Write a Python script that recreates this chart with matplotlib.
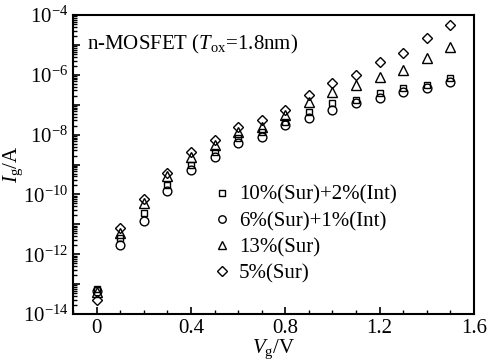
import matplotlib
matplotlib.use('Agg')
import matplotlib.pyplot as plt
from matplotlib.ticker import MultipleLocator, LogLocator, FuncFormatter, NullFormatter
import numpy as np

plt.rcParams['font.family'] = ['Liberation Serif', 'DejaVu Serif']
plt.rcParams['mathtext.fontset'] = 'custom'
plt.rcParams['mathtext.rm'] = 'Liberation Serif'
plt.rcParams['mathtext.it'] = 'Liberation Serif:italic'

# gate voltage (V)
vg = [0.0, 0.1, 0.2, 0.3, 0.4, 0.5, 0.6, 0.7, 0.8, 0.9, 1.0, 1.1, 1.2, 1.3, 1.4, 1.5]

# log10 of gate current (A)
sur10_int2 = [-13.16, -11.46, -10.62, -9.69, -9.02, -8.58, -8.11, -7.91, -7.58, -7.24,
              -6.94, -6.84, -6.61, -6.44, -6.34, -6.11]
sur6_int1 = [-13.22, -11.69, -10.89, -9.89, -9.18, -8.75, -8.28, -8.08, -7.68, -7.44,
             -7.18, -6.94, -6.78, -6.58, -6.44, -6.24]
sur13 = [-13.26, -11.29, -10.29, -9.38, -8.75, -8.35, -7.91, -7.75, -7.34, -6.91,
         -6.58, -6.34, -6.07, -5.84, -5.44, -5.07]
sur5 = [-13.53, -11.12, -10.15, -9.28, -8.58, -8.18, -7.75, -7.51, -7.18, -6.68,
        -6.27, -6.01, -5.57, -5.27, -4.77, -4.33]

labels = ['10%(Sur)+2%(Int)', '6%(Sur)+1%(Int)', '13%(Sur)', '5%(Sur)']

fig = plt.figure(figsize=(4.91, 3.61), dpi=100)
ax = fig.add_axes([0.1487, 0.1302, 0.8167, 0.8282])

series = [sur10_int2, sur6_int1, sur13, sur5]
markers = ['s', 'o', '^', 'D']
sizes = [5, 6.3, 7, 5.6]
for s, m, ms, lab in zip(series, markers, sizes, labels):
    ax.semilogy(vg, 10.0 ** np.array(s), linestyle='none', marker=m, ms=ms,
                mfc='none', mec='black', mew=1.0, label=lab)

ax.set_xlim(-0.1, 1.6)
ax.set_ylim(1e-14, 1e-4)

ax.xaxis.set_major_locator(MultipleLocator(0.4))
ax.xaxis.set_minor_locator(MultipleLocator(0.1))
ax.xaxis.set_major_formatter(FuncFormatter(lambda v, p: '0' if abs(v) < 1e-9 else '%.1f' % v))

ax.yaxis.set_major_locator(LogLocator(base=10, numticks=20))
ax.yaxis.set_minor_locator(LogLocator(base=10, subs=np.arange(2, 10), numticks=20))
ax.yaxis.set_minor_formatter(NullFormatter())


def yfmt(v, p):
    e = int(round(np.log10(v)))
    if e % 2 == 0:
        return r'$\mathregular{10^{%d}}$' % e
    return ''


ax.yaxis.set_major_formatter(FuncFormatter(yfmt))

ax.tick_params(which='both', direction='in', top=False, right=False, labelsize=15)
ax.tick_params(which='major', length=5, width=1.2)
ax.tick_params(which='minor', length=3, width=1.0)
for sp in ax.spines.values():
    sp.set_linewidth(1.5)

ax.set_xlabel(r'$V_\mathregular{g}$/V', fontsize=15, labelpad=0)
ax.set_ylabel(r'$I_\mathregular{g}$/A', fontsize=15, labelpad=-2)

ax.text(0.035, 0.9, r'n-MOSFET ($T_\mathregular{ox}$=1.8nm)', transform=ax.transAxes,
        fontsize=15, ha='left', va='center')

ax.legend(loc='upper left', bbox_to_anchor=(0.33, 0.458), frameon=False, fontsize=15,
          handlelength=0.8, handletextpad=0.4, labelspacing=0.32, borderaxespad=0,
          markerscale=0.85)

fig.savefig('out.png', dpi=100)
